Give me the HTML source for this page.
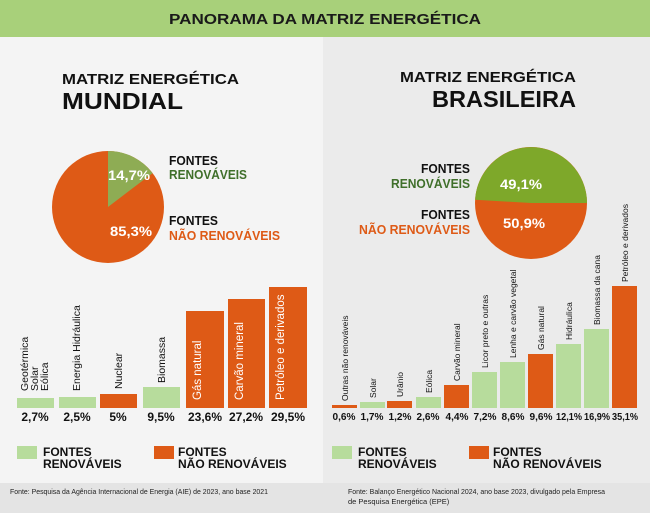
<!DOCTYPE html>
<html><head><meta charset="utf-8"><style>
html,body{margin:0;padding:0;background:#f4f4f4}
svg{display:block}
text{font-family:"Liberation Sans",sans-serif}
.b{font-weight:bold}
</style></head><body>
<svg width="650" height="513" viewBox="0 0 650 513" xmlns="http://www.w3.org/2000/svg">
<rect x="0" y="0" width="650" height="513" fill="#f4f4f4"/>
<rect x="323" y="37" width="327" height="446" fill="#ebebeb"/>
<rect x="0" y="0" width="650" height="37" fill="#a8d07a"/>
<text x="325" y="24" text-anchor="middle" class="b" font-size="14.5" fill="#1a1a1a" textLength="312" lengthAdjust="spacingAndGlyphs">PANORAMA DA MATRIZ ENERGÉTICA</text>
<rect x="0" y="483" width="650" height="30" fill="#e4e4e4"/>

<text x="62" y="84" class="b" font-size="15" fill="#111" textLength="177" lengthAdjust="spacingAndGlyphs">MATRIZ ENERGÉTICA</text>
<text x="62" y="109" class="b" font-size="23" fill="#111" textLength="121" lengthAdjust="spacingAndGlyphs">MUNDIAL</text>
<text x="576" y="82" text-anchor="end" class="b" font-size="15" fill="#111" textLength="176" lengthAdjust="spacingAndGlyphs">MATRIZ ENERGÉTICA</text>
<text x="576" y="107" text-anchor="end" class="b" font-size="23" fill="#111" textLength="144" lengthAdjust="spacingAndGlyphs">BRASILEIRA</text>

<circle cx="108" cy="207" r="56" fill="#de5a16"/>
<path d="M108,207 L108,151 A56,56 0 0,1 152.6,173.1 Z" fill="#8eac54"/>
<text x="108" y="180" class="b" font-size="14" fill="#fff" textLength="42" lengthAdjust="spacingAndGlyphs">14,7%</text>
<text x="110" y="236" class="b" font-size="14" fill="#fff" textLength="42" lengthAdjust="spacingAndGlyphs">85,3%</text>
<text x="169" y="165" class="b" font-size="13" fill="#111" textLength="49" lengthAdjust="spacingAndGlyphs">FONTES</text>
<text x="169" y="179" class="b" font-size="13" fill="#3f6f2a" textLength="78" lengthAdjust="spacingAndGlyphs">RENOVÁVEIS</text>
<text x="169" y="225" class="b" font-size="13" fill="#111" textLength="49" lengthAdjust="spacingAndGlyphs">FONTES</text>
<text x="169" y="240" class="b" font-size="13" fill="#de5a16" textLength="111" lengthAdjust="spacingAndGlyphs">NÃO RENOVÁVEIS</text>

<circle cx="531" cy="203" r="56" fill="#de5a16"/>
<path d="M531,203 L587,203 A56,56 0 0,0 475.1,199.8 Z" fill="#7ea82a"/>
<text x="500" y="189" class="b" font-size="14" fill="#fff" textLength="42" lengthAdjust="spacingAndGlyphs">49,1%</text>
<text x="503" y="228" class="b" font-size="14" fill="#fff" textLength="42" lengthAdjust="spacingAndGlyphs">50,9%</text>
<text x="470" y="173" text-anchor="end" class="b" font-size="13" fill="#111" textLength="49" lengthAdjust="spacingAndGlyphs">FONTES</text>
<text x="470" y="188" text-anchor="end" class="b" font-size="13" fill="#3f6f2a" textLength="79" lengthAdjust="spacingAndGlyphs">RENOVÁVEIS</text>
<text x="470" y="219" text-anchor="end" class="b" font-size="13" fill="#111" textLength="49" lengthAdjust="spacingAndGlyphs">FONTES</text>
<text x="470" y="234" text-anchor="end" class="b" font-size="13" fill="#de5a16" textLength="111" lengthAdjust="spacingAndGlyphs">NÃO RENOVÁVEIS</text>

<g>
<rect x="17" y="398" width="37" height="10" fill="#b7dc9c"/>
<rect x="59" y="397" width="37" height="11" fill="#b7dc9c"/>
<rect x="100" y="394" width="37" height="14" fill="#de5a16"/>
<rect x="143" y="387" width="37" height="21" fill="#b7dc9c"/>
<rect x="186" y="311" width="38" height="97" fill="#de5a16"/>
<rect x="228" y="299" width="37" height="109" fill="#de5a16"/>
<rect x="269" y="287" width="38" height="121" fill="#de5a16"/>
</g>
<g font-size="10.5" fill="#111">
<text transform="translate(28,391) rotate(-90)">Geotérmica</text>
<text transform="translate(38,391) rotate(-90)">Solar</text>
<text transform="translate(48,391) rotate(-90)">Eólica</text>
<text transform="translate(80,391) rotate(-90)">Energia Hidráulica</text>
<text transform="translate(122,389) rotate(-90)">Nuclear</text>
<text transform="translate(165,383) rotate(-90)">Biomassa</text>
</g>
<g font-size="11.5" fill="#fff">
<text transform="translate(201,400) rotate(-90)">Gás natural</text>
<text transform="translate(243,400) rotate(-90)">Carvão mineral</text>
<text transform="translate(284,400) rotate(-90)">Petróleo e derivados</text>
</g>
<g class="b" font-size="12" fill="#111" text-anchor="middle">
<text x="35" y="421">2,7%</text><text x="77" y="421">2,5%</text><text x="118" y="421">5%</text>
<text x="161" y="421">9,5%</text><text x="205" y="421">23,6%</text><text x="246" y="421">27,2%</text><text x="288" y="421">29,5%</text>
</g>
<rect x="17" y="446" width="20" height="13" fill="#b7dc9c"/>
<text x="43" y="456" class="b" font-size="12" fill="#111">FONTES</text>
<text x="43" y="468" class="b" font-size="12" fill="#111">RENOVÁVEIS</text>
<rect x="154" y="446" width="20" height="13" fill="#de5a16"/>
<text x="178" y="456" class="b" font-size="12" fill="#111">FONTES</text>
<text x="178" y="468" class="b" font-size="12" fill="#111">NÃO RENOVÁVEIS</text>

<g>
<rect x="332" y="405" width="25" height="3" fill="#de5a16"/>
<rect x="360" y="402" width="25" height="6" fill="#b7dc9c"/>
<rect x="387" y="401" width="25" height="7" fill="#de5a16"/>
<rect x="416" y="397" width="25" height="11" fill="#b7dc9c"/>
<rect x="444" y="385" width="25" height="23" fill="#de5a16"/>
<rect x="472" y="372" width="25" height="36" fill="#b7dc9c"/>
<rect x="500" y="362" width="25" height="46" fill="#b7dc9c"/>
<rect x="528" y="354" width="25" height="54" fill="#de5a16"/>
<rect x="556" y="344" width="25" height="64" fill="#b7dc9c"/>
<rect x="584" y="329" width="25" height="79" fill="#b7dc9c"/>
<rect x="612" y="286" width="25" height="122" fill="#de5a16"/>
</g>
<g font-size="8.5" fill="#111">
<text transform="translate(348,401) rotate(-90)">Outras não renováveis</text>
<text transform="translate(376,398) rotate(-90)">Solar</text>
<text transform="translate(403,397) rotate(-90)">Urânio</text>
<text transform="translate(432,393) rotate(-90)">Eólica</text>
<text transform="translate(460,381) rotate(-90)">Carvão mineral</text>
<text transform="translate(488,368) rotate(-90)">Licor preto e outras</text>
<text transform="translate(516,358) rotate(-90)">Lenha e carvão vegetal</text>
<text transform="translate(544,350) rotate(-90)">Gás natural</text>
<text transform="translate(572,340) rotate(-90)">Hidráulica</text>
<text transform="translate(600,325) rotate(-90)">Biomassa da cana</text>
<text transform="translate(628,282) rotate(-90)">Petróleo e derivados</text>
</g>
<g class="b" font-size="10" fill="#111" text-anchor="middle">
<text x="344" y="420" textLength="23" lengthAdjust="spacingAndGlyphs">0,6%</text><text x="372" y="420" textLength="23" lengthAdjust="spacingAndGlyphs">1,7%</text><text x="400" y="420" textLength="23" lengthAdjust="spacingAndGlyphs">1,2%</text>
<text x="428" y="420" textLength="23" lengthAdjust="spacingAndGlyphs">2,6%</text><text x="457" y="420" textLength="23" lengthAdjust="spacingAndGlyphs">4,4%</text><text x="485" y="420" textLength="23" lengthAdjust="spacingAndGlyphs">7,2%</text>
<text x="513" y="420" textLength="23" lengthAdjust="spacingAndGlyphs">8,6%</text><text x="541" y="420" textLength="23" lengthAdjust="spacingAndGlyphs">9,6%</text><text x="569" y="420" textLength="26" lengthAdjust="spacingAndGlyphs">12,1%</text>
<text x="597" y="420" textLength="26" lengthAdjust="spacingAndGlyphs">16,9%</text><text x="625" y="420" textLength="26" lengthAdjust="spacingAndGlyphs">35,1%</text>
</g>
<rect x="332" y="446" width="20" height="13" fill="#b7dc9c"/>
<text x="358" y="456" class="b" font-size="12" fill="#111">FONTES</text>
<text x="358" y="468" class="b" font-size="12" fill="#111">RENOVÁVEIS</text>
<rect x="469" y="446" width="20" height="13" fill="#de5a16"/>
<text x="493" y="456" class="b" font-size="12" fill="#111">FONTES</text>
<text x="493" y="468" class="b" font-size="12" fill="#111">NÃO RENOVÁVEIS</text>

<text x="10" y="494" font-size="7.5" fill="#222" textLength="258" lengthAdjust="spacingAndGlyphs">Fonte: Pesquisa da Agência Internacional de Energia (AIE) de 2023, ano base 2021</text>
<text x="348" y="494" font-size="7.5" fill="#222" textLength="257" lengthAdjust="spacingAndGlyphs">Fonte: Balanço Energético Nacional 2024, ano base 2023, divulgado pela Empresa</text>
<text x="348" y="504" font-size="7.5" fill="#222">de Pesquisa Energética (EPE)</text>
</svg>
</body></html>
